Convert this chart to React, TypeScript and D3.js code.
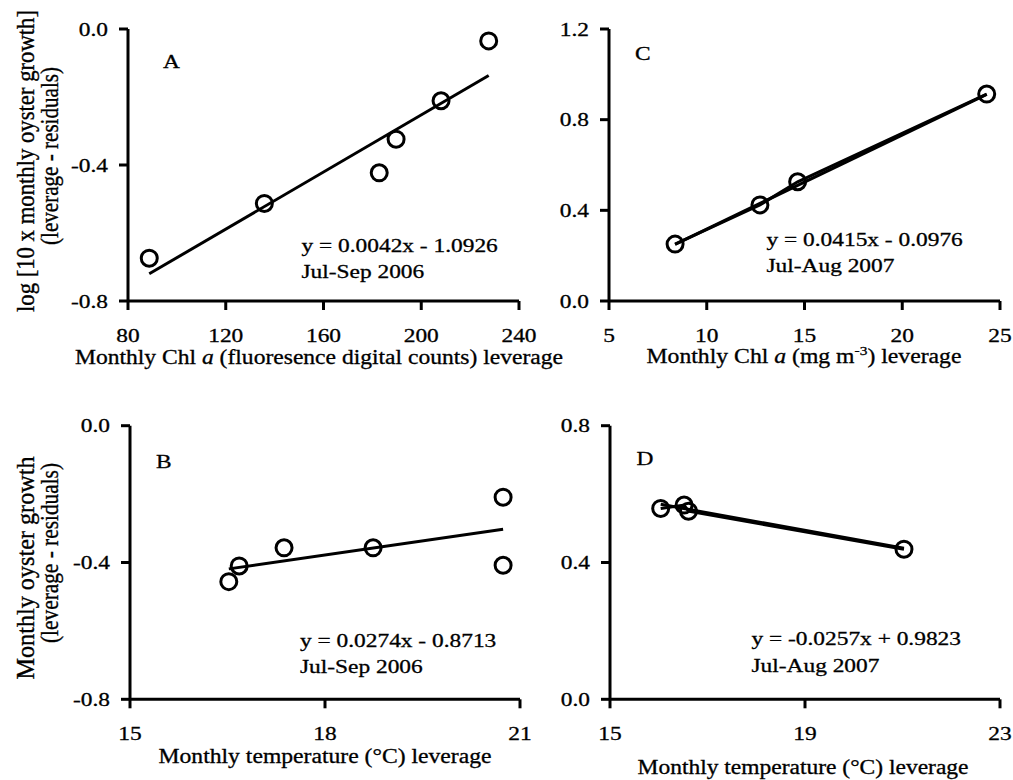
import React from "react";
import * as d3 from "d3";

// ---- data ----
const chlFluorX = [88.7, 135.8, 182.8, 189.7, 208.1, 227.6];
const chlFluorY = [-0.674, -0.513, -0.423, -0.324, -0.211, -0.035];
const chlMgX = [8.38, 12.72, 14.65, 24.32];
const chlMgY = [0.251, 0.424, 0.526, 0.913];
const temp06X = [16.52, 16.68, 17.37, 18.74, 20.74, 20.74];
const temp06Y = [-0.456, -0.41, -0.357, -0.357, -0.209, -0.408];
const temp07X = [16.04, 16.52, 16.61, 21.03];
const temp07Y = [0.558, 0.568, 0.55, 0.439];

const slopes = [0.0042, 0.0415, 0.0274, -0.0257];
const intercepts = [-1.0926, -0.0976, -0.8713, 0.9823];
const equations = [
  "y = 0.0042x - 1.0926",
  "y = 0.0415x - 0.0976",
  "y = 0.0274x - 0.8713",
  "y = -0.0257x + 0.9823",
];
const periods = ["Jul-Sep 2006", "Jul-Aug 2007", "Jul-Sep 2006", "Jul-Aug 2007"];
const letters = ["A", "C", "B", "D"];

const ticksAX = [80, 120, 160, 200, 240];
const ticksAY = [-0.8, -0.4, 0.0];
const ticksCX = [5, 10, 15, 20, 25];
const ticksCY = [0.0, 0.4, 0.8, 1.2];
const ticksBX = [15, 18, 21];
const ticksBY = [-0.8, -0.4, 0.0];
const ticksDX = [15, 19, 23];
const ticksDY = [0.0, 0.4, 0.8];

// ---- layout ----
const FONT = "'Liberation Serif', 'Times New Roman', Times, serif";
const FS = 19.5;
const SX = 1.2;
const TS = 0.3; // slight text stroke to mimic heavier rendering

const panels = [
  {
    xs: chlFluorX, ys: chlFluorY, fit: 0, connect: false,
    xDomain: [80, 240], yDomain: [-0.8, 0], xTicks: ticksAX, yTicks: ticksAY,
    xRange: [128, 519], yRange: [301, 29],
    letterPos: [163, 68], eqPos: [301.5, 251.5, 278.3], xTickBase: 342,
  },
  {
    xs: chlMgX, ys: chlMgY, fit: 1, connect: true,
    xDomain: [5, 25], yDomain: [0, 1.2], xTicks: ticksCX, yTicks: ticksCY,
    xRange: [609, 1000], yRange: [301, 29],
    letterPos: [635, 60], eqPos: [766.5, 245.5, 272], xTickBase: 342,
  },
  {
    xs: temp06X, ys: temp06Y, fit: 2, connect: false,
    xDomain: [15, 21], yDomain: [-0.8, 0], xTicks: ticksBX, yTicks: ticksBY,
    xRange: [130, 520], yRange: [699.3, 425.7],
    letterPos: [156, 468], eqPos: [300, 646.5, 673.3], xTickBase: 740,
  },
  {
    xs: temp07X, ys: temp07Y, fit: 3, connect: true,
    xDomain: [15, 23], yDomain: [0, 0.8], xTicks: ticksDX, yTicks: ticksDY,
    xRange: [610, 1000], yRange: [699.3, 425.7],
    letterPos: [636.5, 465], eqPos: [751.5, 645, 671.5], xTickBase: 740,
  },
];

function T({ x, y, anchor = "start", children, size = FS, sx = SX }: any) {
  return (
    <text
      transform={`translate(${x},${y}) scale(${sx},1)`}
      textAnchor={anchor}
      fontSize={size}
      fill="#000"
      stroke="#000"
      strokeWidth={TS}
    >
      {children}
    </text>
  );
}

function Panel({ p, i }: any) {
  const x = d3.scaleLinear().domain(p.xDomain).range(p.xRange);
  const y = d3.scaleLinear().domain(p.yDomain).range(p.yRange);
  const pts = p.xs.map((v: number, k: number) => [v, p.ys[k]]);
  const xmin = d3.min(p.xs) as number;
  const xmax = d3.max(p.xs) as number;
  const m = slopes[p.fit];
  const b = intercepts[p.fit];
  const line = d3.line<number[]>().x((d) => x(d[0])).y((d) => y(d[1]));
  const trend = line([
    [xmin, m * xmin + b],
    [xmax, m * xmax + b],
  ]);
  const sorted = [...pts].sort((a, c) => a[0] - c[0]);
  const x0 = p.xRange[0];
  const y0 = p.yRange[0];
  const TL = 9;
  return (
    <g>
      {/* axes */}
      <line x1={x0} x2={p.xRange[1]} y1={y0} y2={y0} stroke="#000" strokeWidth={3} />
      <line x1={x0} x2={x0} y1={y0} y2={p.yRange[1]} stroke="#000" strokeWidth={3} />
      {p.xTicks.map((t: number) => (
        <line key={"xt" + t} x1={x(t)} x2={x(t)} y1={y0} y2={y0 + TL} stroke="#000" strokeWidth={3} />
      ))}
      {p.yTicks.map((t: number) => (
        <line key={"yt" + t} x1={x0 - TL} x2={x0} y1={y(t)} y2={y(t)} stroke="#000" strokeWidth={3} />
      ))}
      {p.xTicks.map((t: number) => (
        <T key={"xl" + t} x={x(t)} y={p.xTickBase} anchor="middle">
          {String(t)}
        </T>
      ))}
      {p.yTicks.map((t: number) => (
        <T key={"yl" + t} x={x0 - 20} y={y(t) + 6.6} anchor="end">
          {t.toFixed(1)}
        </T>
      ))}
      {/* lines */}
      <path d={trend || ""} fill="none" stroke="#000" strokeWidth={3} />
      {p.connect && <path d={line(sorted) || ""} fill="none" stroke="#000" strokeWidth={3} />}
      {/* points */}
      {pts.map((d: number[], k: number) => (
        <circle key={k} cx={x(d[0])} cy={y(d[1])} r={8} fill="none" stroke="#000" strokeWidth={3} />
      ))}
      {/* annotations */}
      <T x={p.letterPos[0]} y={p.letterPos[1]}>{letters[i]}</T>
      <T x={p.eqPos[0]} y={p.eqPos[1]}>{equations[p.fit]}</T>
      <T x={p.eqPos[0]} y={p.eqPos[2]}>{periods[p.fit]}</T>
    </g>
  );
}

function HTitle({ cx, y, len, children }: any) {
  return (
    <text
      x={cx}
      y={y}
      textAnchor="middle"
      fontSize={20}
      textLength={len}
      lengthAdjust="spacingAndGlyphs"
      fill="#000"
      stroke="#000"
      strokeWidth={TS}
    >
      {children}
    </text>
  );
}

function VTitle({ x, cy, len, children }: any) {
  return (
    <text
      transform={`translate(${x},${cy}) scale(1.22,1) rotate(-90)`}
      textAnchor="middle"
      fontSize={21}
      textLength={len}
      lengthAdjust="spacingAndGlyphs"
      fill="#000"
      stroke="#000"
      strokeWidth={TS}
    >
      {children}
    </text>
  );
}

export default function App() {
  return (
    <svg
      width={1013}
      height={780}
      style={{ position: "absolute", left: 0, top: 0, background: "#fff" }}
      fontFamily={FONT}
    >
      <rect width={1013} height={780} fill="#fff" />
      {panels.map((p, i) => (
        <Panel key={i} p={p} i={i} />
      ))}
      {/* x titles */}
      <HTitle cx={319} y={364} len={488}>
        Monthly Chl <tspan fontStyle="italic">a</tspan> (fluoresence digital counts) leverage
      </HTitle>
      <HTitle cx={804} y={363} len={315}>
        Monthly Chl <tspan fontStyle="italic">a</tspan> (mg m
        <tspan dy={-8} fontSize={13}>-3</tspan>
        <tspan dy={8}>) leverage</tspan>
      </HTitle>
      <HTitle cx={325} y={763} len={333}>
        Monthly temperature (°C) leverage
      </HTitle>
      <HTitle cx={803} y={774} len={331}>
        Monthly temperature (°C) leverage
      </HTitle>
      {/* y titles */}
      <VTitle x={34} cy={161} len={302}>log [10 x monthly oyster growth]</VTitle>
      <VTitle x={58} cy={156} len={178}>(leverage - residuals)</VTitle>
      <VTitle x={34} cy={568} len={223}>Monthly oyster growth</VTitle>
      <VTitle x={58} cy={553} len={180}>(leverage - residuals)</VTitle>
    </svg>
  );
}
